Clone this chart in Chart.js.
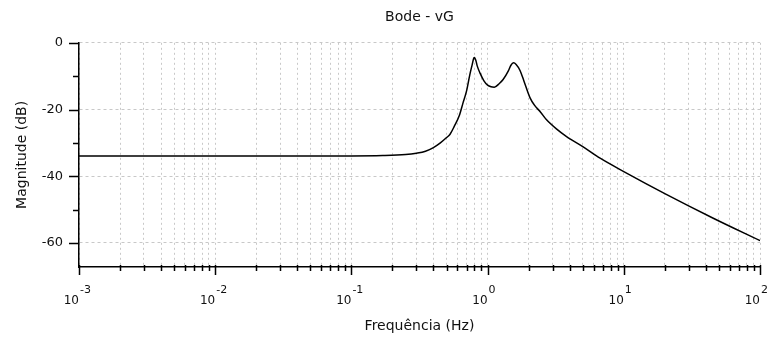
<!DOCTYPE html>
<html>
<head>
<meta charset="utf-8">
<script src="https://cdn.jsdelivr.net/npm/chart.js@4.4.1/dist/chart.umd.min.js"></script>
<style>
  body { margin: 0; background: #fff; }
  #bode { display: block; }
</style>
</head>
<body>
<canvas id="bode" width="780" height="345"></canvas>
<script>
// frequency (Hz) and magnitude (dB)
var freqHz = [0.001, 0.01, 0.1, 0.17, 0.25, 0.3, 0.35, 0.4, 0.45, 0.5,
              0.53, 0.57, 0.62, 0.66, 0.70, 0.74, 0.77, 0.79, 0.80, 0.82,
              0.84, 0.88, 0.94, 1.0, 1.06, 1.12, 1.22, 1.30, 1.42, 1.48,
              1.55, 1.62, 1.73, 1.85, 2.05, 2.2, 2.45, 2.7, 3.2, 3.8,
              5.0, 6.7, 10, 20, 45, 100];
var magDb = [-33.9, -33.9, -33.9, -33.8, -33.5, -33.1, -32.5, -31.4, -30.0, -28.4,
             -27.4, -25.0, -21.8, -18.0, -14.5, -9.6, -6.6, -4.7, -4.4, -5.3,
             -7.0, -9.1, -11.4, -12.7, -13.2, -13.3, -12.2, -11.0, -8.4, -6.8,
             -6.0, -6.5, -8.3, -11.5, -16.5, -18.6, -20.8, -23.0, -25.8, -28.1,
             -31.1, -34.6, -38.6, -45.2, -52.5, -59.3];

var decadeExps = [-3, -2, -1, 0, 1, 2];
var yTicks = [0, -10, -20, -30, -40, -50, -60];
var yLabelStep = 20;

// 1..9 x 10^e for every decade, plus the last power of ten
var xTicks = [];
for (var i = 0; i < decadeExps.length - 1; i++) {
    for (var m = 1; m <= 9; m++) {
        xTicks.push(Number((m * Math.pow(10, decadeExps[i])).toPrecision(3)));
    }
}
xTicks.push(Math.pow(10, decadeExps[decadeExps.length - 1]));

var pontos = freqHz.map(function(f, i) {
    return { x: f, y: magDb[i] };
});

var FONTE = 'DejaVu Sans';
var gridCor = '#c8c8c8';
var textoCor = '#111';

// tick marks and "10^n" labels drawn by hand
var eixosPlugin = {
    id: 'eixos',
    afterDraw: function(chart) {
        var ctx = chart.ctx;
        var xs = chart.scales.x;
        var ys = chart.scales.y;
        var bottom = chart.chartArea.bottom;
        var left = chart.chartArea.left;
        ctx.save();
        ctx.strokeStyle = '#000';
        ctx.lineWidth = 1.5;
        ctx.beginPath();
        xTicks.forEach(function(v) {
            var px = Math.round(xs.getPixelForValue(v)) + 0.5;
            var major = Math.abs(Math.log10(v) - Math.round(Math.log10(v))) < 1e-9;
            ctx.moveTo(px, bottom - 2);
            ctx.lineTo(px, bottom + (major ? 8 : 4));
        });
        yTicks.forEach(function(v) {
            var py = Math.round(ys.getPixelForValue(v)) + 0.5;
            var major = v % yLabelStep === 0;
            ctx.moveTo(left - (major ? 10 : 6), py);
            ctx.lineTo(left, py);
        });
        ctx.stroke();

        ctx.fillStyle = textoCor;
        decadeExps.forEach(function(e) {
            var px = xs.getPixelForValue(Math.pow(10, e));
            ctx.font = '12px "' + FONTE + '"';
            ctx.textAlign = 'right';
            ctx.textBaseline = 'alphabetic';
            ctx.fillText('10', px, 304);
            ctx.font = '11px "' + FONTE + '"';
            ctx.textAlign = 'left';
            ctx.fillText(String(e), px + 1, 293);
        });
        ctx.restore();
    }
};

var ctx = document.getElementById('bode');

var bodeChart = new Chart(ctx, {
    type: 'line',
    data: {
        datasets: [{
            label: 'vG',
            data: pontos,
            borderColor: '#000',
            borderWidth: 1.5,
            pointRadius: 0,
            fill: false,
            cubicInterpolationMode: 'monotone'
        }]
    },
    options: {
        responsive: false,
        animation: false,
        devicePixelRatio: 1,
        layout: {
            padding: { left: 0, right: 20, top: 0, bottom: 0 }
        },
        plugins: {
            legend: { display: false },
            tooltip: { enabled: false },
            title: {
                display: true,
                text: 'Bode - vG',
                fullSize: false,
                color: textoCor,
                font: { family: FONTE, size: 14, weight: 'normal' },
                padding: { top: 9, bottom: 17 }
            }
        },
        scales: {
            x: {
                type: 'logarithmic',
                min: 0.001,
                max: 100,
                afterBuildTicks: function(scale) {
                    scale.ticks = xTicks.map(function(v) { return { value: v }; });
                },
                afterFit: function(scale) {
                    scale.height = 78;
                },
                ticks: {
                    autoSkip: false,
                    maxRotation: 0,
                    callback: function() { return ''; }
                },
                grid: {
                    color: gridCor,
                    lineWidth: 1,
                    drawTicks: false
                },
                border: {
                    display: true,
                    color: '#000',
                    width: 1.5,
                    dash: [2, 3]
                },
                title: {
                    display: true,
                    text: 'Frequência (Hz)',
                    color: textoCor,
                    font: { family: FONTE, size: 14 },
                    padding: 10
                }
            },
            y: {
                type: 'linear',
                min: -67.2,
                max: 0,
                afterBuildTicks: function(scale) {
                    scale.ticks = yTicks.map(function(v) { return { value: v }; });
                },
                afterFit: function(scale) {
                    scale.width = 79;
                },
                ticks: {
                    color: textoCor,
                    font: { family: FONTE, size: 13 },
                    padding: 16,
                    callback: function(value) {
                        return value % yLabelStep === 0 ? String(value) : '';
                    }
                },
                grid: {
                    color: function(c) {
                        return c.tick && c.tick.value % yLabelStep === 0 ? gridCor : 'rgba(0,0,0,0)';
                    },
                    lineWidth: 1,
                    drawTicks: false
                },
                border: {
                    display: true,
                    color: '#000',
                    width: 1.5,
                    dash: [3, 3]
                },
                title: {
                    display: true,
                    text: 'Magnitude (dB)',
                    color: textoCor,
                    font: { family: FONTE, size: 14 },
                    padding: 14
                }
            }
        }
    },
    plugins: [eixosPlugin]
});
</script>
</body>
</html>
